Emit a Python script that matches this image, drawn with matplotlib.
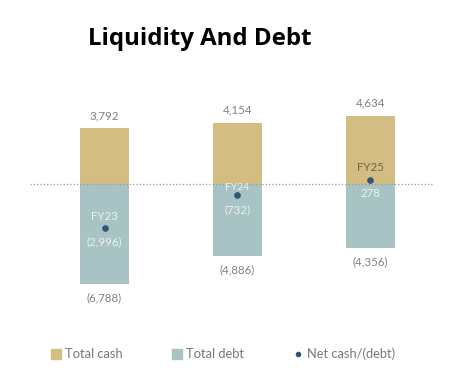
import numpy as np
import matplotlib.pyplot as plt
from matplotlib.patches import Patch
from matplotlib.lines import Line2D

# data
years = ["FY23", "FY24", "FY25"]
total_cash = [3792, 4154, 4634]
total_debt = [-6788, -4886, -4356]
net_cash = [-2996, -732, 278]

cash_col = "#D3BD83"
debt_col = "#A7C3C3"
dot_col = "#2E5476"
txt_col = "#808080"

fig = plt.figure(figsize=(4.67, 3.78), dpi=100)
ax = fig.add_axes([0, 0, 1, 1])
x = np.arange(len(years))

ax.bar(x, total_cash, width=0.37, color=cash_col)
ax.bar(x, total_debt, width=0.37, color=debt_col)
ax.plot([-0.56, 2.46], [0, 0], ls=":", color="#999999", lw=0.9)
ax.scatter(x, net_cash, s=14, color=dot_col, zorder=3)

fnt = "Lato"
fs = 8.3
for i in range(len(years)):
    ax.annotate(f"{total_cash[i]:,}", (x[i], total_cash[i]), xytext=(0, 9),
                textcoords="offset points", ha="center", va="center",
                fontsize=fs, color=txt_col, family=fnt)
    ax.annotate(f"({-total_debt[i]:,})", (x[i], total_debt[i]), xytext=(0, -10),
                textcoords="offset points", ha="center", va="center",
                fontsize=fs, color=txt_col, family=fnt)

# net cash labels (placement per bar, like the source)
inner = "#EEF3F3"
ax.annotate("FY23", (x[0], net_cash[0]), xytext=(0, 8.5), textcoords="offset points",
            ha="center", va="center", fontsize=fs, color=inner, family=fnt)
ax.annotate("(2,996)", (x[0], net_cash[0]), xytext=(0, -9.5), textcoords="offset points",
            ha="center", va="center", fontsize=fs, color=inner, family=fnt)
ax.annotate("FY24", (x[1], 0), xytext=(0, -2.5), textcoords="offset points",
            ha="center", va="center", fontsize=7.5, color=inner, family=fnt)
ax.annotate("(732)", (x[1], net_cash[1]), xytext=(0, -11), textcoords="offset points",
            ha="center", va="center", fontsize=fs, color=inner, family=fnt)
ax.annotate("FY25", (x[2], net_cash[2]), xytext=(0, 9), textcoords="offset points",
            ha="center", va="center", fontsize=fs, color="#6E6546", family=fnt)
ax.annotate(f"{net_cash[2]:,}", (x[2], 0), xytext=(0, -7), textcoords="offset points",
            ha="center", va="center", fontsize=fs, color=inner, family=fnt)

ax.set_xlim(-0.786, 2.726)
ax.set_ylim(-13134, 12457)
ax.axis("off")

fig.text(0.428, 0.897, "Liquidity And Debt", ha="center", va="center",
         fontsize=17.3, fontweight="bold", family="Open Sans", color="black")

handles = [Patch(color=cash_col), Patch(color=debt_col),
           Line2D([], [], ls="", marker="o", ms=3, color=dot_col)]
fig.legend(handles, ["Total cash", "Total debt", "Net cash/(debt)"],
           loc="center", bbox_to_anchor=(0.478, 0.063), ncol=3, frameon=False,
           prop={"family": fnt, "size": 9.3}, labelcolor="#777777",
           handlelength=0.75, handleheight=0.75, handletextpad=0.3, columnspacing=3.85)

fig.savefig("out.png", dpi=100)
